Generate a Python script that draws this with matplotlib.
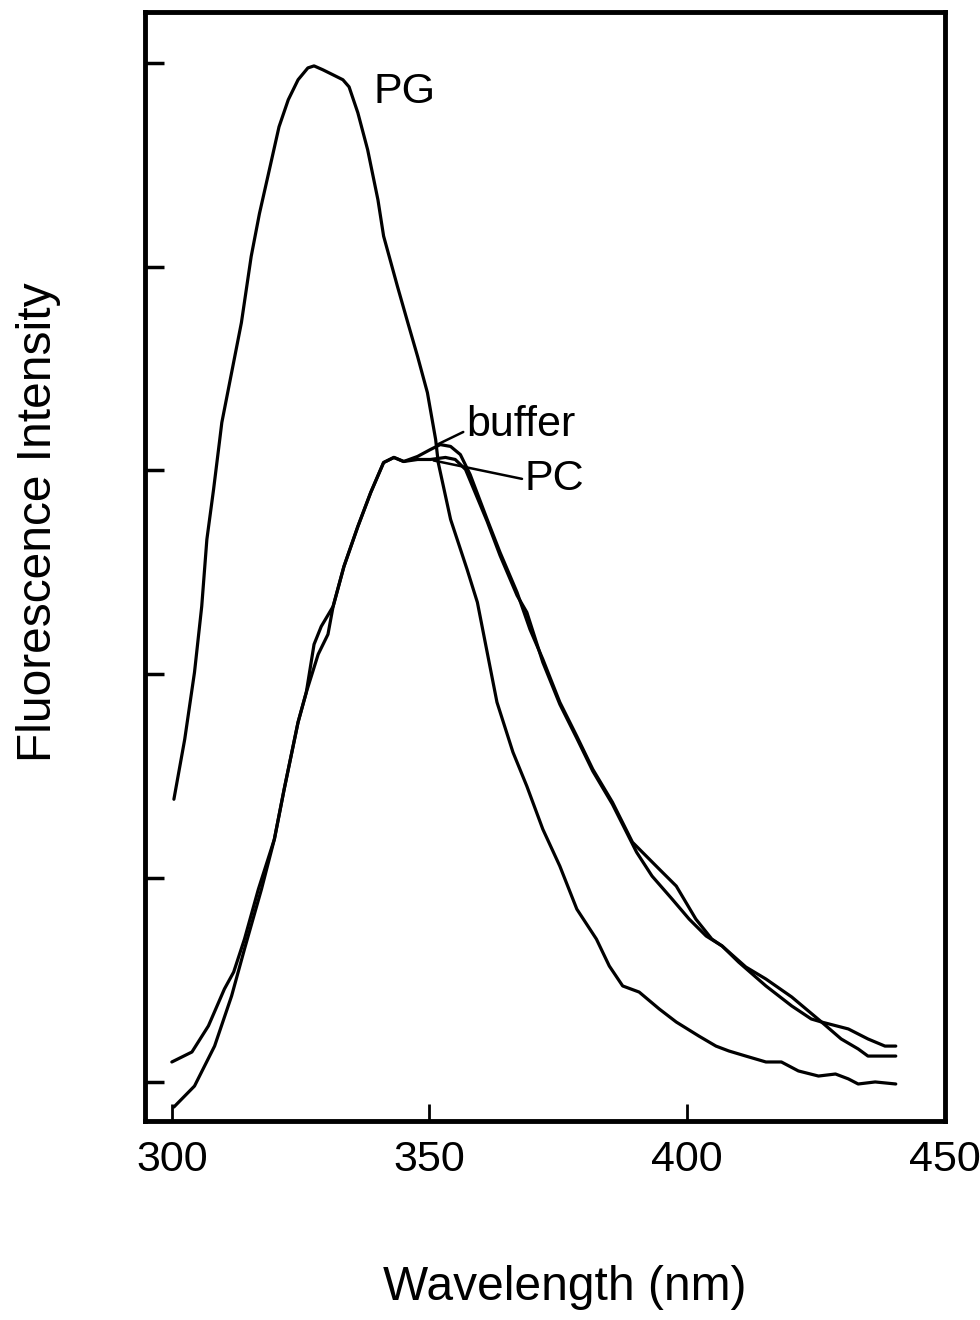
import matplotlib
matplotlib.use("Agg")
import matplotlib.pyplot as plt

plt.rcParams['font.family'] = ['Liberation Sans', 'DejaVu Sans']

# ---- data ----
pg_wl = [300.4, 302.5, 304.4, 305.8, 306.8, 308.1, 309.3, 309.7, 311.6, 313.5, 315.4, 317.0,
         318.7, 320.8, 322.6, 324.5, 326.4, 327.6, 329.3, 331.3, 333.2, 334.4, 336.1, 338.0,
         340.0, 341.1, 343.8, 345.8, 347.7, 349.6, 351.2, 351.7, 354.1, 357.3, 359.3, 361.2,
         363.1, 366.2, 368.9, 372.0, 375.3, 378.6, 382.4, 384.9, 387.5, 390.7, 394.6, 397.9,
         402.3, 405.6, 408.1, 411.4, 415.3, 418.3, 421.6, 425.5, 428.8, 431.3, 433.2, 436.5,
         440.5]
pg_int = [1.387, 1.681, 2.010, 2.333, 2.662, 2.907, 3.152, 3.235, 3.480, 3.725, 4.050, 4.260,
          4.450, 4.686, 4.819, 4.917, 4.975, 4.985, 4.966, 4.941, 4.917, 4.882, 4.755, 4.574,
          4.328, 4.150, 3.902, 3.725, 3.559, 3.382, 3.152, 3.039, 2.760, 2.515, 2.353, 2.108,
          1.863, 1.618, 1.451, 1.240, 1.059, 0.848, 0.701, 0.569, 0.471, 0.441, 0.358, 0.294,
          0.225, 0.176, 0.152, 0.127, 0.098, 0.098, 0.054, 0.029, 0.039, 0.015, -0.010, 0.0,
          -0.010]

buffer_wl = [300.0, 303.9, 307.1, 310.2, 312.0, 314.1, 316.8, 319.9, 321.8, 324.5, 326.1, 327.6,
             329.0, 331.3, 333.4, 336.1, 338.6, 341.1, 343.1, 345.0, 347.7, 350.2, 352.1, 354.1,
             356.0, 357.9, 361.2, 363.7, 367.0, 369.5, 372.0, 375.3, 378.6, 381.7, 385.5, 389.4,
             394.6, 397.9, 401.7, 404.8, 406.8, 410.0, 415.3, 420.3, 424.1, 426.1, 429.9, 433.2,
             435.1, 440.5]
buffer_int = [0.098, 0.147, 0.275, 0.456, 0.539, 0.701, 0.946, 1.191, 1.436, 1.765, 1.912, 2.147,
              2.235, 2.333, 2.529, 2.725, 2.892, 3.039, 3.064, 3.044, 3.069, 3.103, 3.127, 3.118,
              3.078, 2.980, 2.760, 2.598, 2.402, 2.221, 2.074, 1.863, 1.696, 1.534, 1.373, 1.176,
              1.044, 0.961, 0.799, 0.701, 0.667, 0.588, 0.471, 0.373, 0.309, 0.294, 0.211, 0.162,
              0.127, 0.127]

pc_wl = [300.4, 304.4, 308.3, 311.6, 314.1, 317.4, 319.9, 321.8, 324.5, 326.1, 328.4, 330.3,
         331.3, 333.4, 336.1, 338.6, 341.1, 343.1, 345.0, 347.7, 350.2, 353.1, 355.0, 357.0,
         361.2, 363.7, 367.0, 368.9, 372.0, 375.3, 378.6, 381.7, 385.5, 390.2, 393.2, 397.1,
         400.4, 403.7, 406.8, 411.4, 415.3, 420.3, 426.1, 431.3, 435.1, 438.4, 440.5]
pc_int = [-0.123, -0.020, 0.176, 0.422, 0.652, 0.946, 1.191, 1.436, 1.765, 1.912, 2.098, 2.196,
          2.333, 2.529, 2.725, 2.892, 3.039, 3.064, 3.044, 3.054, 3.054, 3.064, 3.054, 3.005,
          2.750, 2.583, 2.387, 2.304, 2.059, 1.853, 1.686, 1.525, 1.363, 1.127, 1.010, 0.897,
          0.799, 0.716, 0.667, 0.564, 0.505, 0.417, 0.294, 0.260, 0.211, 0.176, 0.176]

x_ticks = [300, 350, 400, 450]
x_tick_labels = ["300", "350", "400", "450"]
y_ticks = [0, 1, 2, 3, 4, 5]

# ---- figure ----
fig = plt.figure(figsize=(9.8, 13.2), dpi=100)
ax = fig.add_axes([0.148, 0.151, 0.816, 0.840])

lw = 2.3
for wl, inten in [(pg_wl, pg_int), (buffer_wl, buffer_int), (pc_wl, pc_int)]:
    ax.plot(wl, inten, color='black', lw=lw, solid_capstyle='round',
            solid_joinstyle='round')

ax.set_xlim(294.8, 450)
ax.set_ylim(-0.19, 5.25)

ax.set_xticks(x_ticks)
ax.set_xticklabels(x_tick_labels)
ax.set_yticks(y_ticks)
ax.set_yticklabels([])

ax.tick_params(axis='x', direction='in', length=12, width=2, labelsize=31, pad=14,
               top=False)
ax.tick_params(axis='y', direction='in', length=14, width=2.5, right=False)

for s in ax.spines.values():
    s.set_linewidth(3.5)

ax.set_xlabel("Wavelength (nm)", fontsize=34.5)
ax.xaxis.set_label_coords(0.525, -0.130)
ax.set_ylabel("Fluorescence Intensity", fontsize=34.5)
ax.yaxis.set_label_coords(-0.105, 0.54)

# labels
ax.text(339.2, 4.858, "PG", fontsize=31, ha='left', va='center')
ax.annotate("buffer", xy=(351.5, 3.127), xytext=(357.1, 3.225), fontsize=31,
            ha='left', va='center',
            arrowprops=dict(arrowstyle='-', color='black', lw=1.8,
                            shrinkA=0, shrinkB=0, relpos=(0, 0.35)))
ax.annotate("PC", xy=(350.8, 3.049), xytext=(368.5, 2.956), fontsize=31,
            ha='left', va='center',
            arrowprops=dict(arrowstyle='-', color='black', lw=1.8,
                            shrinkA=0, shrinkB=0, relpos=(0, 0.5)))

fig.savefig("out.png", dpi=100)
